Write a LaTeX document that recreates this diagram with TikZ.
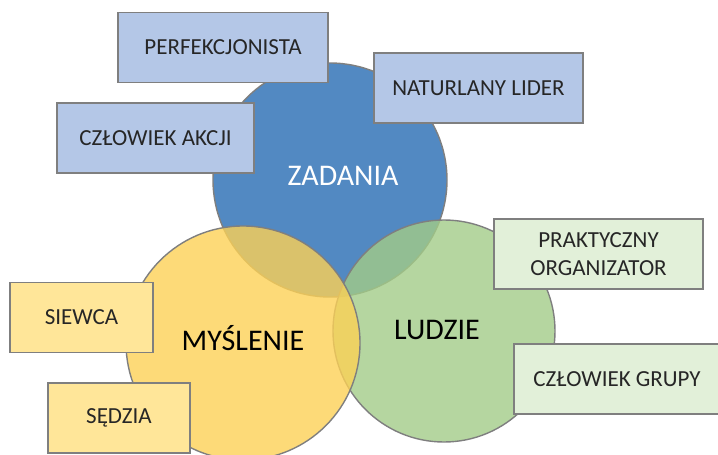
\documentclass[tikz,border=0pt]{standalone}
\usepackage{fontspec}
\setmainfont{Carlito}
\usepackage{tikz}
\usepackage{xcolor}
\definecolor{zadania}{HTML}{5289C2}
\definecolor{myslenie}{HTML}{FCD156}
\definecolor{ludzie}{HTML}{A2CC88}
\definecolor{boxblue}{HTML}{B4C7E7}
\definecolor{boxyellow}{HTML}{FFE699}
\definecolor{boxgreen}{HTML}{E2F0D9}
\definecolor{rim}{HTML}{7F7F7F}
\definecolor{txt}{HTML}{262626}

\begin{document}
\begin{tikzpicture}[x=1pt, y=-1pt,
    krag/.style={circle, draw=rim, line width=1.4pt, inner sep=0pt},
    napis/.style={font=\fontsize{30}{36}\selectfont},
    rola/.style={rectangle, draw=rim, line width=1.4pt, inner sep=0pt,
      minimum height=70pt, align=center, text=txt,
      font=\fontsize{23}{28}\selectfont}]
    \useasboundingbox (0,0) rectangle (718,455);
    % Trzy kola
    \node[krag, fill=zadania, minimum size=234pt] (zad) at (330,180) {};
    \node[krag, fill=ludzie, fill opacity=0.8, minimum size=222pt] (lud) at (444,331) {};
    \node[krag, fill=myslenie, fill opacity=0.8, minimum size=234pt] (mys) at (243,343) {};
    \node[napis, text=white] (tzad) at (343,176) {ZADANIA};
    \node[napis, text=black] (tmys) at (243,338) {MYŚLENIE};
    \node[napis, text=black] (tlud) at (437,330) {LUDZIE};
    % Role - zadania
    \node[rola, fill=boxblue, minimum width=210pt] (perf) at (223,47.5) {PERFEKCJONISTA};
    \node[rola, fill=boxblue, minimum width=209pt] (lider) at (478.5,88) {NATURLANY LIDER};
    \node[rola, fill=boxblue, minimum width=197pt] (akcja) at (155.5,138) {CZŁOWIEK AKCJI};
    % Role - myslenie
    \node[rola, fill=boxyellow, minimum width=143pt] (siewca) at (81.5,317.5) {SIEWCA};
    \node[rola, fill=boxyellow, minimum width=142pt] (sedzia) at (119,418) {SĘDZIA};
    % Role - ludzie
    \node[rola, fill=boxgreen, minimum width=209pt] (org) at (598.5,254) {PRAKTYCZNY\\ORGANIZATOR};
    \node[rola, fill=boxgreen, minimum width=206pt] (grupa) at (617,379) {CZŁOWIEK GRUPY};
\end{tikzpicture}
\end{document}
